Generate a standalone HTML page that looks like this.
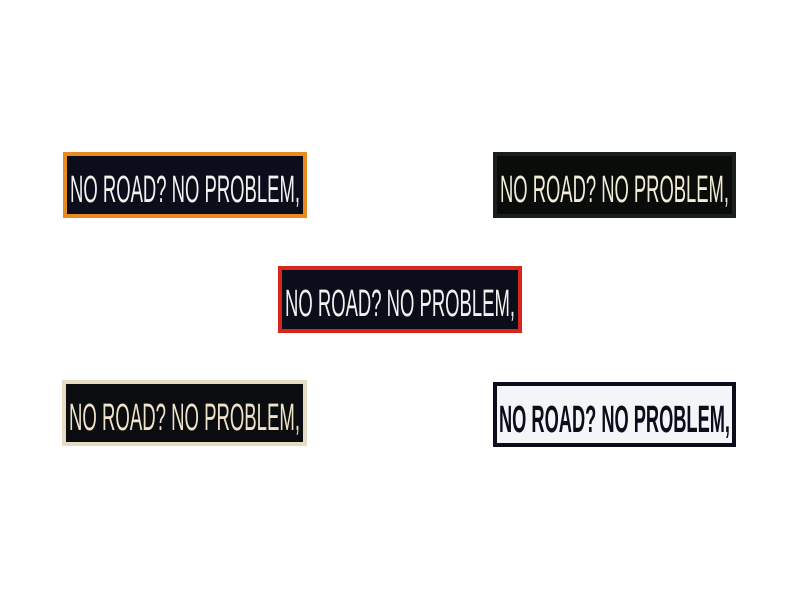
<!DOCTYPE html>
<html><head><meta charset="utf-8"><style>
html,body{margin:0;padding:0;background:#fff;width:800px;height:600px;overflow:hidden}
</style></head><body>
<svg width="800" height="600" viewBox="0 0 800 600" xmlns="http://www.w3.org/2000/svg" font-family="'Liberation Sans Narrow','Liberation Sans',sans-serif" xml:space="preserve">
<rect width="800" height="600" fill="#fff"/>
<rect x="63" y="152" width="244" height="66" fill="#e88a20"/>
<rect x="67" y="156" width="236" height="58" fill="#0b0d1a"/>
<text x="70" y="202" font-size="38" fill="#eef3f0" textLength="230" lengthAdjust="spacingAndGlyphs">NO ROAD?  NO PROBLEM,</text>
<rect x="493" y="152" width="243" height="66" fill="#1a1f1c"/>
<rect x="497" y="156" width="235" height="58" fill="#0a0c0a"/>
<text x="500" y="202" font-size="38" fill="#f0ecd8" textLength="229" lengthAdjust="spacingAndGlyphs">NO ROAD?  NO PROBLEM,</text>
<rect x="278" y="266" width="244" height="67" fill="#d8261e"/>
<rect x="282" y="270" width="236" height="59" fill="#0b0d1a"/>
<text x="285" y="316" font-size="38" fill="#eef3f0" textLength="230" lengthAdjust="spacingAndGlyphs">NO ROAD?  NO PROBLEM,</text>
<rect x="62" y="380" width="245" height="66" fill="#e6dcc4"/>
<rect x="66" y="384" width="237" height="58" fill="#0b0c10"/>
<text x="69" y="430" font-size="38" fill="#eee3c8" textLength="231" lengthAdjust="spacingAndGlyphs">NO ROAD?  NO PROBLEM,</text>
<rect x="493" y="382" width="243" height="65" fill="#0b0d1a"/>
<rect x="497" y="386" width="235" height="57" fill="#f4f5f8"/>
<text x="499" y="432" font-size="38" fill="#0b0d1a" font-weight="bold" textLength="231" lengthAdjust="spacingAndGlyphs">NO ROAD?  NO PROBLEM,</text>
</svg>
</body></html>
